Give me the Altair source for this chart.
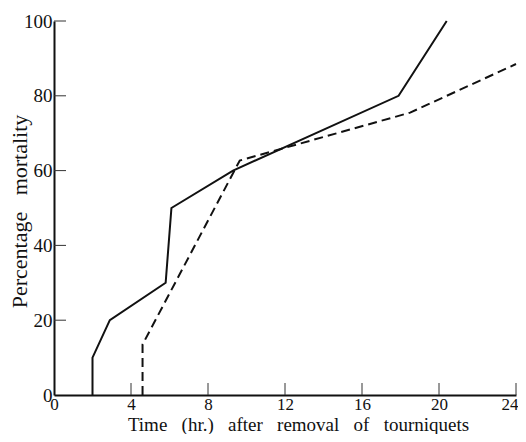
import altair as alt
import pandas as pd

solid_x = [2.0, 2.0, 2.9, 5.8, 6.1, 9.3, 17.9, 20.4]
solid_y = [0, 10, 20, 30, 50, 60, 80, 100]
dashed_x = [4.6, 4.6, 9.65, 18.5, 24.0]
dashed_y = [0, 13.5, 62.7, 75.5, 88.5]
x_ticks = [0, 4, 8, 12, 16, 20, 24]
y_ticks = [0, 20, 40, 60, 80, 100]

FONT = "Liberation Serif"
GAP = "\u00a0\u00a0 "

x_title = GAP.join(["Time", "(hr.)", "after", "removal", "of", "tourniquets"])
y_title = GAP.join(["Percentage", "mortality"])

solid = pd.DataFrame({"t": solid_x, "m": solid_y, "o": range(len(solid_x))})
dashed = pd.DataFrame({"t": dashed_x, "m": dashed_y, "o": range(len(dashed_x))})
xt = pd.DataFrame({"v": x_ticks[1:]})
yt = pd.DataFrame({"v": y_ticks[1:]})

xscale = alt.Scale(domain=[0, 24], nice=False, zero=False)
yscale = alt.Scale(domain=[0, 100], nice=False)

xaxis = alt.Axis(values=x_ticks, tickSize=0, labelPadding=1, labelFont=FONT,
                 labelFontSize=17, labelColor="#111", domainColor="#111",
                 domainWidth=2, grid=False, labelFlush=False,
                 labelAlign=alt.ExprRef(expr="datum.value == 24 ? 'right' : 'center'"),
                 labelOffset=alt.ExprRef(expr="datum.value == 24 ? 2 : 0"),
                 title=x_title,
                 titleFont=FONT, titleFontSize=19, titleFontWeight="normal",
                 titleColor="#111", titleX=244, titleY=35,
                 titleAlign="center", titleBaseline="alphabetic")
yaxis = alt.Axis(values=y_ticks, tickSize=0, labelPadding=2, labelFont=FONT,
                 labelFontSize=19, labelColor="#111", domainColor="#111",
                 domainWidth=2, grid=False, labelFlush=False,
                 title=y_title, titleFont=FONT,
                 titleFontSize=22, titleFontWeight="normal", titleColor="#111",
                 titleX=-35, titleY=190, titleAngle=270,
                 titleAlign="center", titleBaseline="middle")

base_solid = alt.Chart(solid).mark_line(color="#111", strokeWidth=2).encode(
    x=alt.X("t:Q", scale=xscale, axis=xaxis),
    y=alt.Y("m:Q", scale=yscale, axis=yaxis),
    order="o:Q",
)
dash_line = alt.Chart(dashed).mark_line(color="#111", strokeWidth=2,
                                        strokeDash=[9, 5]).encode(
    x=alt.X("t:Q", scale=xscale),
    y=alt.Y("m:Q", scale=yscale),
    order="o:Q",
)
xtick_marks = alt.Chart(xt).mark_rule(color="#333", strokeWidth=1).encode(
    x=alt.X("v:Q", scale=xscale),
    y=alt.value(362), y2=alt.value(374),
)
ytick_marks = alt.Chart(yt).mark_rule(color="#333", strokeWidth=1).encode(
    y=alt.Y("v:Q", scale=yscale),
    x=alt.value(0), x2=alt.value(12),
)

chart = alt.layer(ytick_marks, xtick_marks, base_solid, dash_line).properties(
    width=462, height=374,
    autosize=alt.AutoSizeParams(type="none"),
    padding={"left": 46, "top": 13, "right": 2, "bottom": 39},
).configure_view(stroke=None)

chart.save("out.html", embed_options={"renderer": "svg", "actions": False})
